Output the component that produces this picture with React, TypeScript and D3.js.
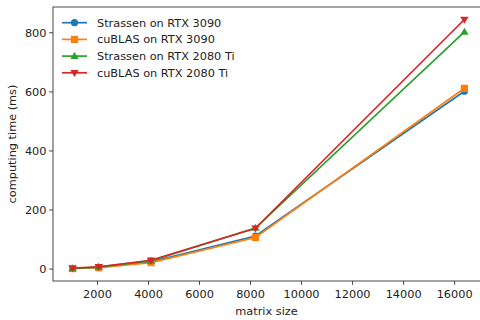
import React from 'react';
import * as d3 from 'd3';

const sizes = [1024, 2048, 4096, 8192, 16384];
const strassen3090 = [2, 6, 25, 112, 602];
const cublas3090 = [2, 5, 22, 107, 612];
const strassen2080 = [2, 7, 28, 139, 803];
const cublas2080 = [3, 8, 30, 138, 845];
const xTicks = [2000, 4000, 6000, 8000, 10000, 12000, 14000, 16000];
const yTicks = [0, 200, 400, 600, 800];

const series = [
  { name: 'Strassen on RTX 3090', values: strassen3090, color: '#1f77b4', marker: 'circle' },
  { name: 'cuBLAS on RTX 3090', values: cublas3090, color: '#ff7f0e', marker: 'square' },
  { name: 'Strassen on RTX 2080 Ti', values: strassen2080, color: '#2ca02c', marker: 'up' },
  { name: 'cuBLAS on RTX 2080 Ti', values: cublas2080, color: '#d62728', marker: 'down' },
];

const W = 480;
const H = 320;
const margin = { top: 7, right: -4, bottom: 39, left: 53 };
const font = 'DejaVu Sans, sans-serif';
const fs = 11.3;

function Marker({ type, x, y, color }: { type: string; x: number; y: number; color: string }) {
  const r = 3.6;
  if (type === 'circle') return <circle cx={x} cy={y} r={r} fill={color} />;
  if (type === 'square') return <rect x={x - r} y={y - r} width={2 * r} height={2 * r} fill={color} />;
  if (type === 'up')
    return <path d={`M${x},${y - r - 0.6}L${x + r + 0.6},${y + r - 0.8}L${x - r - 0.6},${y + r - 0.8}Z`} fill={color} />;
  return <path d={`M${x},${y + r + 0.6}L${x + r + 0.6},${y - r + 0.8}L${x - r - 0.6},${y - r + 0.8}Z`} fill={color} />;
}

export default function App() {
  const x0 = margin.left;
  const x1 = W - margin.right;
  const y0 = H - margin.bottom;
  const y1 = margin.top;

  const xPad = (16384 - 1024) * 0.05;
  const x = d3.scaleLinear().domain([1024 - xPad, 16384 + xPad]).range([x0, x1]);
  const yPad = 845 * 0.05;
  const y = d3.scaleLinear().domain([2 - yPad, 845 + yPad]).range([y0, y1]);

  const line = d3
    .line<number>()
    .x((_, i) => x(sizes[i]))
    .y((d) => y(d));

  return (
    <svg
      width={W}
      height={H}
      style={{ position: 'absolute', left: 0, top: 0, background: '#fff' }}
      fontFamily={font}
    >
      {/* series */}
      {series.map((s) => (
        <g key={s.name}>
          <path d={line(s.values) || ''} fill="none" stroke={s.color} strokeWidth={1.7} />
          {s.values.map((v, i) => (
            <Marker key={i} type={s.marker} x={x(sizes[i])} y={y(v)} color={s.color} />
          ))}
        </g>
      ))}

      {/* frame */}
      <rect x={x0} y={y1} width={x1 - x0} height={y0 - y1} fill="none" stroke="#333" strokeWidth={0.9} />

      {/* x axis */}
      {xTicks.map((t) => (
        <g key={t} transform={`translate(${x(t)},${y0})`}>
          <line y2={3.9} stroke="#333" strokeWidth={0.9} />
          <text y={17} textAnchor="middle" fontSize={fs} fill="#222">
            {t}
          </text>
        </g>
      ))}
      <text x={(x0 + 480) / 2} y={315} textAnchor="middle" fontSize={fs} fill="#222">
        matrix size
      </text>

      {/* y axis */}
      {yTicks.map((t) => (
        <g key={t} transform={`translate(${x0},${y(t)})`}>
          <line x2={-3.9} stroke="#333" strokeWidth={0.9} />
          <text x={-6.5} dy="0.35em" textAnchor="end" fontSize={fs} fill="#222">
            {t}
          </text>
        </g>
      ))}
      <text
        transform={`translate(16,${(y0 + y1) / 2}) rotate(-90)`}
        textAnchor="middle"
        fontSize={fs}
        fill="#222"
      >
        computing time (ms)
      </text>

      {/* legend */}
      {series.map((s, i) => {
        const ly = 22.7 + i * 16.7;
        return (
          <g key={s.name}>
            <line x1={62} x2={87} y1={ly} y2={ly} stroke={s.color} strokeWidth={1.7} />
            <Marker type={s.marker} x={74.5} y={ly} color={s.color} />
            <text x={97} y={ly} dy="0.35em" fontSize={fs} fill="#222">
              {s.name}
            </text>
          </g>
        );
      })}
    </svg>
  );
}
